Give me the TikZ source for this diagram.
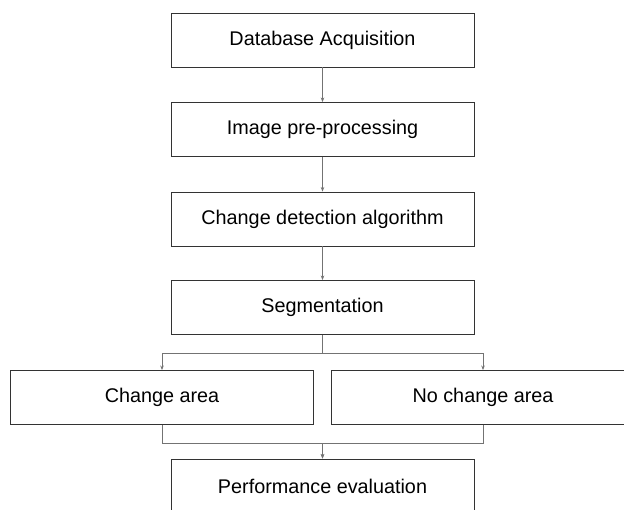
\documentclass[tikz,border=0pt]{standalone}
\usepackage{fontspec}
\setmainfont{Liberation Sans}
\usetikzlibrary{arrows.meta}
\begin{document}
\begin{tikzpicture}[x=1pt,y=-1pt,
  stepbox/.style={draw=black!80,line width=0.9pt,rectangle,
    minimum width=303pt,minimum height=54pt,inner sep=0pt,
    font=\fontsize{19.8}{22}\selectfont},
  conn/.style={draw=black!55,line width=0.7pt,
    -{Stealth[length=4.5pt,width=3.5pt]}}]
  \clip (0,0) rectangle (624,509);
  \fill[white] (0,0) rectangle (624,509);
  \node[stepbox] (b1) at (322.5,40)   {Database Acquisition};
  \node[stepbox] (b2) at (322.5,129.5) {Image pre-processing};
  \node[stepbox] (b3) at (322.5,219)  {Change detection algorithm};
  \node[stepbox] (b4) at (322.5,307.5) {Segmentation};
  \node[stepbox] (b5) at (162,397.5)  {Change area};
  \node[stepbox] (b6) at (483,397.5)  {No change area};
  \node[stepbox] (b7) at (322.5,486)  {Performance evaluation};
  \draw[conn] (b1) -- (b2);
  \draw[conn] (b2) -- (b3);
  \draw[conn] (b3) -- (b4);
  \draw[conn] (b4.south) -- ++(0,18) -| (b5.north);
  \draw[conn] (b4.south) -- ++(0,18) -| (b6.north);
  \draw[conn] (b5.south) -- ++(0,18) -| (b7.north);
  \draw[conn] (b6.south) -- ++(0,18) -| (b7.north);
\end{tikzpicture}
\end{document}
